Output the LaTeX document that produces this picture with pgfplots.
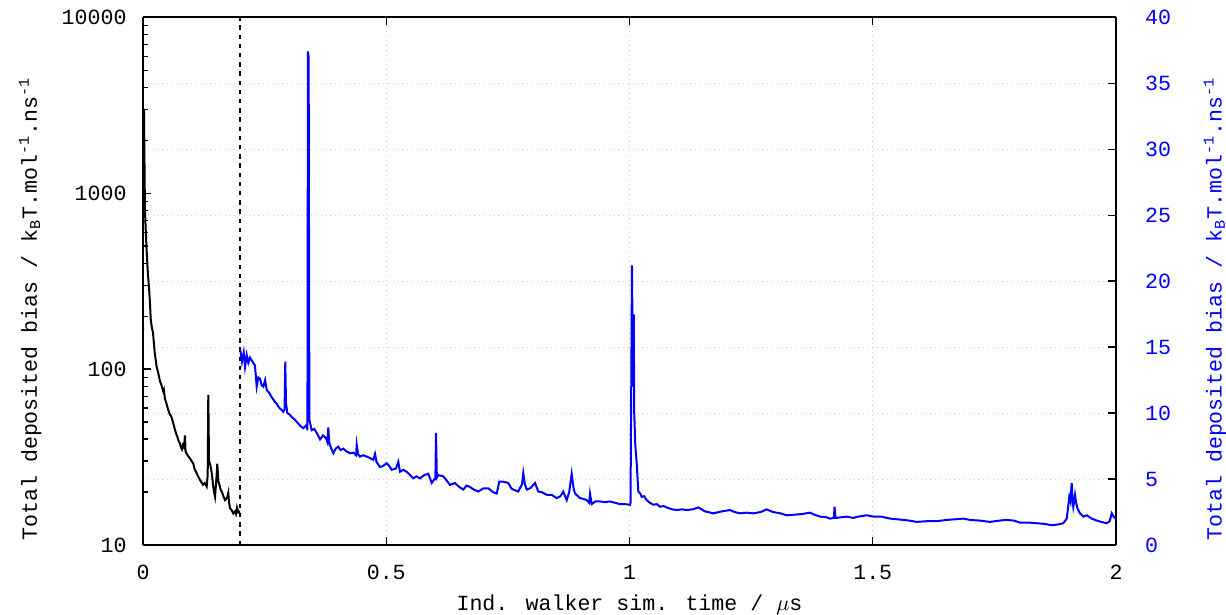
\documentclass[border=0pt]{standalone}
\usepackage{fontspec}
\setmainfont{Liberation Mono}
\usepackage{pgfplots}
\pgfplotsset{compat=1.18}
\definecolor{gridcol}{RGB}{200,200,255}

\pgfplotsset{
  set layers,
  every axis/.append style={
    scale only axis, width=486.5pt, height=263.9pt,
    xmin=0, xmax=2,
    font=\fontsize{10.8}{13}\selectfont,
    /pgf/number format/assume math mode=true,
    tick align=inside, major tick length=4pt, minor tick length=2.5pt,
    every tick/.style={black, line width=0.6pt},
    axis line style={line width=1pt},
    grid style={gridcol, dotted, line width=0.5pt},
  },
}

\begin{document}
\begin{tikzpicture}
% left axis (log), black, first segment
\begin{axis}[
  ymode=log, ymin=10, ymax=10000,
  axis y line*=left,
  ytick={10,100,1000,10000}, yticklabels={10,100,1000,10000},
  ytick pos=left, xtick pos=both,
  xtick={0,0.5,1,1.5,2},
  xmajorgrids,
  xticklabel style={yshift=-6.5pt},
  yticklabel style={xshift=-4.7pt},
  xlabel={Ind. walker sim. time / $\mu$s},
  ylabel={Total deposited bias / k\textsubscript{B}T.mol\textsuperscript{-1}.ns\textsuperscript{-1}},
  every axis x label/.style={at={(axis description cs:0.5,-0.114)}, anchor=center},
  every axis y label/.style={at={(axis description cs:-0.116,0.447)}, rotate=90, anchor=center},
]
\addplot[black, line width=1pt, mark=none] coordinates {
(0.002,3000)(0.004,800)(0.007,500)(0.010,350)(0.012,300)(0.014,247)(0.016,190)(0.018,174)
(0.0206,160)(0.024,125)(0.028,103)(0.031,96)(0.035,85)(0.038,81)(0.0417,74.5)(0.043,76)
(0.045,68)(0.048,64)(0.052,58.5)(0.0555,55)(0.058,54)(0.0623,49)(0.065,46)(0.068,43)
(0.071,41)(0.073,39)(0.076,37.8)(0.078,36)(0.080,35)(0.082,37)(0.0843,36)(0.0863,42)
(0.0875,34)(0.0898,33)(0.093,32)(0.0966,31)(0.100,30)(0.1034,29)(0.106,27)(0.109,26)
(0.112,25)(0.1172,23.4)(0.120,22.8)(0.1233,22)(0.127,22.5)(0.1309,21.5)(0.133,25)
(0.1342,71.3)(0.1357,30)(0.1377,29)(0.140,27)(0.1418,25)(0.1439,22)(0.146,20)
(0.148,18.8)(0.151,24)(0.1527,29)(0.155,23)(0.158,21.5)(0.160,20.5)(0.1624,20)
(0.165,19)(0.1686,18)(0.1727,18.5)(0.1753,19.8)(0.1768,17.5)(0.1788,16.2)(0.182,15.8)
(0.1856,15.1)(0.189,15.5)(0.191,15.0)(0.1932,16.3)(0.196,15.3)(0.1994,15.5)
};
\addplot[black, line width=1pt, dash pattern=on 2.2pt off 2.4pt, mark=none]
  coordinates {(0.2,10)(0.2,10000)};
\end{axis}

% right axis (linear), blue, second segment
\begin{axis}[
  ymin=0, ymax=40,
  axis y line*=right, hide x axis,
  ytick={0,5,...,40}, ytick pos=right,
  ymajorgrids,
  yticklabel style={blue, xshift=11pt},
  ylabel={Total deposited bias / k\textsubscript{B}T.mol\textsuperscript{-1}.ns\textsuperscript{-1}},
  every axis y label/.style={at={(axis description cs:1.1017,0.447)}, rotate=90, anchor=center, blue},
]
\addplot[blue, line width=1pt, mark=none] coordinates {
(0.200,14.8)(0.2035,13.9)(0.2070,14.6)(0.2097,13.5)(0.2132,14.4)(0.2165,13.8)(0.2199,14.2)
(0.2250,13.9)(0.2302,13.6)(0.2337,12.0)(0.2370,12.7)(0.2405,12.6)(0.2440,12.1)(0.2473,12.0)
(0.2510,12.5)(0.2543,11.75)(0.2600,11.5)(0.2645,11.2)(0.2700,10.9)(0.2748,10.7)(0.2800,10.4)
(0.2860,10.2)(0.2884,10.1)(0.2910,10.3)(0.2925,13.9)(0.2939,10.8)(0.2966,10.0)(0.3010,9.9)
(0.3057,9.7)(0.3120,9.5)(0.3192,9.2)(0.3240,9.0)(0.3295,8.85)(0.3365,9.1)(0.3380,8.7)
(0.3390,37.4)(0.3405,37.0)(0.3420,9.5)(0.3468,8.7)(0.3520,8.8)(0.3570,8.5)(0.3638,8.0)
(0.3700,8.3)(0.3760,8.1)(0.3790,7.8)(0.3809,8.9)(0.3830,7.7)(0.3860,7.4)(0.3912,6.95)
(0.3960,7.3)(0.4014,7.45)(0.4060,7.2)(0.4117,7.3)(0.4180,7.1)(0.4255,6.95)(0.4330,7.0)
(0.4380,6.8)(0.4393,7.6)(0.4420,6.9)(0.4460,6.7)(0.4530,6.8)(0.4598,6.7)(0.4660,6.6)
(0.4734,6.45)(0.4769,6.9)(0.4800,6.3)(0.4871,5.9)(0.4940,6.0)(0.5009,6.2)(0.5060,6.0)
(0.5112,5.7)(0.5200,5.8)(0.5248,6.3)(0.5283,5.55)(0.5350,5.7)(0.5420,5.55)(0.5490,5.3)
(0.5556,5.05)(0.5620,5.2)(0.5694,5.05)(0.5780,5.3)(0.5864,5.4)(0.5934,4.7)(0.5990,5.0)
(0.6010,5.0)(0.6023,8.5)(0.6040,5.1)(0.6070,5.3)(0.6173,5.2)(0.6240,4.9)(0.6310,4.55)
(0.6413,4.7)(0.6500,4.4)(0.6584,4.2)(0.6650,4.5)(0.6721,4.4)(0.6800,4.2)(0.6892,4.05)
(0.7000,4.3)(0.7097,4.3)(0.7200,4.0)(0.7270,3.9)(0.7323,4.8)(0.7400,4.8)(0.7509,4.7)
(0.7570,4.3)(0.7611,4.2)(0.7714,4.05)(0.7790,4.6)(0.7817,5.45)(0.7850,4.6)(0.7887,4.2)
(0.7960,4.3)(0.8058,4.7)(0.8125,4.05)(0.8200,4.0)(0.8298,3.8)(0.8400,3.8)(0.8503,3.55)
(0.8580,3.7)(0.8639,4.05)(0.8709,3.4)(0.8760,4.0)(0.8812,5.4)(0.8850,4.3)(0.8880,3.9)
(0.8983,3.55)(0.9050,3.5)(0.9120,3.4)(0.9170,3.2)(0.9188,3.9)(0.9223,3.1)(0.9300,3.3)
(0.9394,3.3)(0.9500,3.25)(0.9599,3.3)(0.9700,3.2)(0.9805,3.1)(0.9900,3.1)(1.0010,3.05)
(1.0021,3.2)(1.0041,15.0)(1.0051,21.2)(1.0062,16.0)(1.0068,12.0)(1.0075,17.4)(1.0088,17.4)
(1.0097,10.0)(1.0120,7.5)(1.0148,6.2)(1.0181,4.05)(1.0220,3.9)(1.0251,3.65)(1.0300,3.7)
(1.0353,3.4)(1.0420,3.2)(1.0489,3.05)(1.0560,3.1)(1.0627,2.9)(1.0700,2.95)(1.0797,2.8)
(1.0880,2.7)(1.0970,2.65)(1.1080,2.7)(1.1176,2.65)(1.1300,2.7)(1.1414,2.85)(1.1550,2.55)
(1.1723,2.4)(1.1900,2.55)(1.2066,2.65)(1.2160,2.5)(1.2271,2.4)(1.2400,2.45)(1.2545,2.4)
(1.2700,2.5)(1.2820,2.7)(1.2950,2.5)(1.3100,2.4)(1.3231,2.25)(1.3400,2.3)(1.3550,2.35)
(1.3710,2.45)(1.3800,2.3)(1.3916,2.15)(1.4050,2.1)(1.4121,2.0)(1.4200,2.05)(1.4215,2.9)
(1.4235,2.05)(1.4350,2.1)(1.4464,2.15)(1.4600,2.05)(1.4700,2.15)(1.4876,2.25)(1.5011,2.15)
(1.5180,2.15)(1.5355,2.0)(1.5500,1.95)(1.5628,1.9)(1.5750,1.85)(1.5903,1.75)(1.6100,1.8)
(1.6300,1.8)(1.6520,1.9)(1.6700,1.95)(1.6861,2.0)(1.7000,1.9)(1.7200,1.85)(1.7410,1.75)
(1.7600,1.85)(1.7753,1.9)(1.7900,1.85)(1.8027,1.7)(1.8200,1.7)(1.8370,1.65)(1.8530,1.6)
(1.8678,1.5)(1.8800,1.55)(1.8917,1.65)(1.8987,2.0)(1.9020,3.0)(1.9040,3.65)(1.9065,3.3)
(1.9089,4.7)(1.9105,3.5)(1.9122,2.9)(1.9140,3.3)(1.9157,3.8)(1.9180,3.2)(1.9205,2.8)
(1.9260,2.4)(1.9328,2.15)(1.9400,2.25)(1.9500,2.0)(1.9603,1.85)(1.9700,1.75)(1.9809,1.65)
(1.9870,1.8)(1.9912,2.4)(1.9960,2.1)(2.0000,2.0)
};
\end{axis}
\pgfresetboundingbox
\path (-71.5pt,-35pt) rectangle (541.5pt,272.5pt);
\end{tikzpicture}
\end{document}
